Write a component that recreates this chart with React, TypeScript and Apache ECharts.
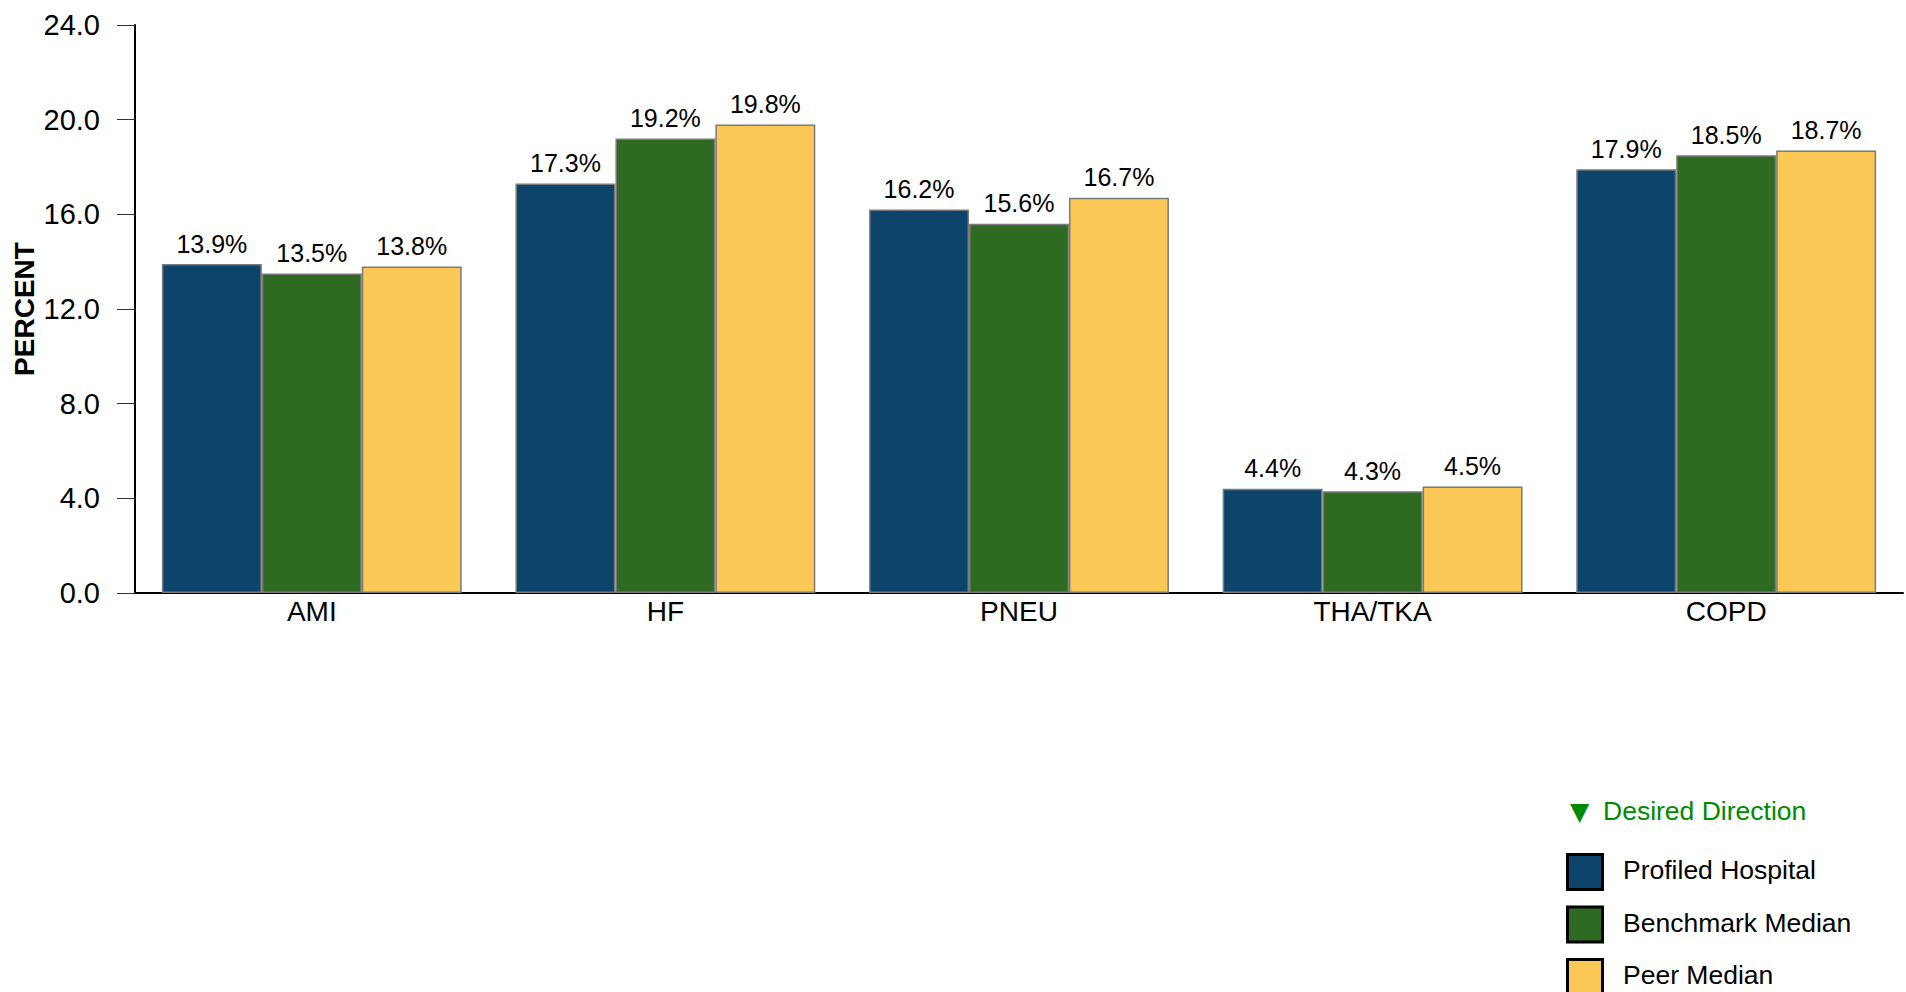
import React, { useEffect, useRef } from "react";
import * as echarts from "echarts";

const categories = ["AMI", "HF", "PNEU", "THA/TKA", "COPD"];
const seriesNames = ["Profiled Hospital", "Benchmark Median", "Peer Median"];
const profiledHospital = [13.9, 17.3, 16.2, 4.4, 17.9];
const benchmarkMedian = [13.5, 19.2, 15.6, 4.3, 18.5];
const peerMedian = [13.8, 19.8, 16.7, 4.5, 18.7];
const seriesColors = ["#0C446B", "#2F6A22", "#FAC855"];
const yTicks = { min: 0, max: 24, interval: 4 };
const desiredDirection = "Desired Direction";

export default function App() {
  const ref = useRef<HTMLDivElement>(null);
  useEffect(() => {
    if (!ref.current) return;
    const chart = echarts.init(ref.current, null, { renderer: "svg" });
    const values = [profiledHospital, benchmarkMedian, peerMedian];
    const font = "'Liberation Sans', Arial, sans-serif";
    const legendItems: any[] = [];
    seriesNames.forEach((name, i) => {
      const top = 853 + i * 52.5;
      legendItems.push({
        type: "rect",
        shape: { x: 1567.5, y: top + 1.5, width: 35, height: 35 },
        style: { fill: seriesColors[i], stroke: "#000", lineWidth: 3 },
      });
      legendItems.push({
        type: "text",
        x: 1623,
        y: top + 17,
        style: {
          text: name,
          fontSize: 26.5,
          fill: "#000",
          fontFamily: font,
          verticalAlign: "middle",
          textAlign: "left",
        },
      });
    });
    chart.setOption({
      animation: false,
      backgroundColor: "#ffffff",
      grid: {
        left: 135,
        right: 3,
        top: 25,
        bottom: 399,
        containLabel: false,
        outerBoundsMode: "none",
      },
      xAxis: {
        type: "category",
        data: categories,
        axisLine: { lineStyle: { color: "#000", width: 2 } },
        axisTick: { show: false },
        axisLabel: { fontSize: 28, color: "#000", fontFamily: font, margin: 4 },
      },
      yAxis: {
        type: "value",
        min: yTicks.min,
        max: yTicks.max,
        interval: yTicks.interval,
        name: "PERCENT",
        nameLocation: "middle",
        nameGap: 97,
        nameMoveOverlap: false,
        nameTextStyle: { fontSize: 28, fontWeight: "bold", color: "#000", fontFamily: font },
        axisLine: { show: true, lineStyle: { color: "#000", width: 2 } },
        axisTick: { show: true, length: 18, lineStyle: { color: "#333", width: 1 } },
        splitLine: { show: false },
        axisLabel: {
          fontSize: 29,
          color: "#000",
          fontFamily: font,
          margin: 35,
          formatter: (v: number) => v.toFixed(1),
        },
      },
      series: seriesNames.map((name, i) => ({
        name,
        type: "bar",
        data: values[i],
        barGap: "0%",
        barCategoryGap: "15.2%",
        itemStyle: { color: seriesColors[i], borderColor: "#7a7a7a", borderWidth: 1.5 },
        label: {
          show: true,
          position: "top",
          distance: 8,
          fontSize: 25,
          color: "#000",
          fontFamily: font,
          formatter: (p: any) => `${Number(p.value).toFixed(1)}%`,
        },
      })),
      graphic: [
        {
          type: "text",
          x: 1570,
          y: 811,
          style: {
            text: "▼",
            fontSize: 25,
            fill: "#008A00",
            fontFamily: "'DejaVu Sans', sans-serif",
            verticalAlign: "middle",
          },
        },
        {
          type: "text",
          x: 1603,
          y: 811,
          style: {
            text: desiredDirection,
            fontSize: 26.5,
            fill: "#008A00",
            fontFamily: font,
            verticalAlign: "middle",
          },
        },
        ...legendItems,
      ],
    });
    return () => chart.dispose();
  }, []);
  return (
    <div
      ref={ref}
      style={{ position: "fixed", left: 0, top: 0, width: "1906px", height: "992px" }}
    />
  );
}
